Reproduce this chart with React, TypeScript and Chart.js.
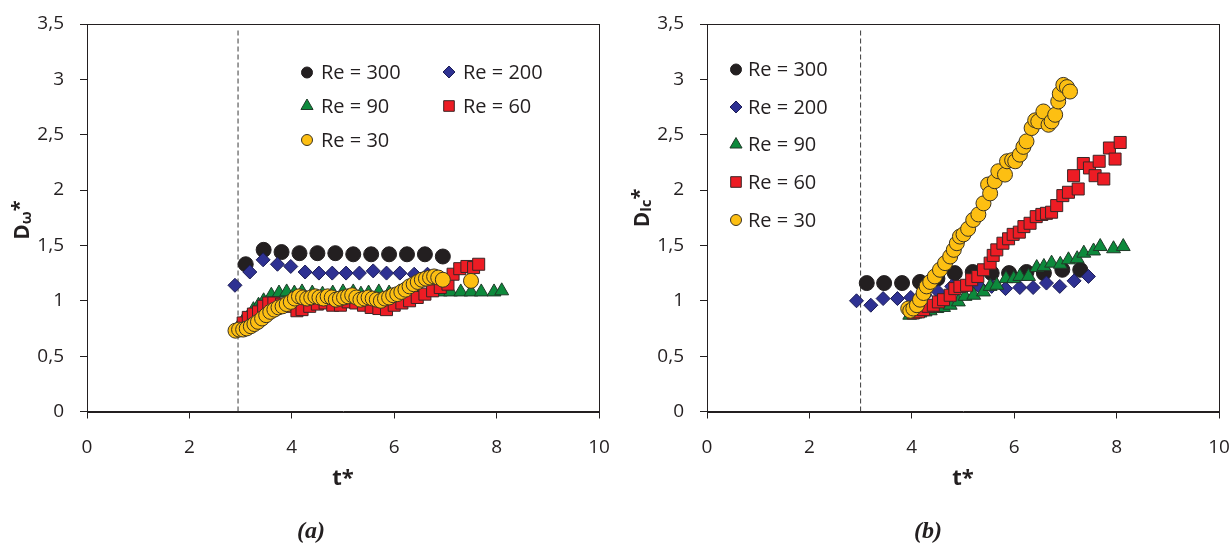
import React, { useEffect, useRef } from "react";
import { Chart, registerables } from "chart.js";

Chart.register(...registerables);

const FONT = "'Open Sans', 'Noto Sans', sans-serif";
const INK = "#231f20";

// ---------- axis ticks ----------
const xTickValues = [0, 2, 4, 6, 8, 10];
const yTickValues = [0, 0.5, 1, 1.5, 2, 2.5, 3, 3.5];

// ---------- legend labels ----------
const seriesLabels = ["Re = 300", "Re = 200", "Re = 90", "Re = 60", "Re = 30"];

// ---------- panel (a): D_omega* ----------
const a300T = [3.1, 3.45, 3.8, 4.15, 4.5, 4.85, 5.2, 5.55, 5.9, 6.25, 6.6, 6.95];
const a300V = [1.33, 1.46, 1.44, 1.43, 1.43, 1.43, 1.42, 1.42, 1.42, 1.42, 1.42, 1.4];

const a200T = [2.89, 3.18, 3.44, 3.72, 3.98, 4.26, 4.53, 4.79, 5.06, 5.32, 5.59, 5.85, 6.11, 6.39, 6.65];
const a200V = [1.14, 1.26, 1.37, 1.33, 1.31, 1.26, 1.25, 1.25, 1.25, 1.25, 1.27, 1.25, 1.25, 1.24, 1.24];

const a90T = [2.95, 3.05, 3.15, 3.25, 3.35, 3.45, 3.6, 3.75, 3.9, 4.05, 4.2, 4.4, 4.6, 4.8, 5.0, 5.2, 5.35, 5.5, 5.7, 5.9, 6.1, 6.3, 6.5, 6.7, 6.9, 7.1, 7.3, 7.5, 7.7, 7.95, 8.1];
const a90V = [0.76, 0.82, 0.86, 0.92, 0.96, 1.0, 1.05, 1.07, 1.08, 1.07, 1.08, 1.07, 1.06, 1.07, 1.08, 1.08, 1.06, 1.07, 1.08, 1.07, 1.08, 1.07, 1.06, 1.08, 1.08, 1.08, 1.08, 1.08, 1.08, 1.08, 1.09];

const a60T = [3.05, 3.15, 3.25, 3.35, 3.45, 3.55, 3.65, 3.8, 3.95, 4.1, 4.2, 4.35, 4.5, 4.65, 4.8, 4.95, 5.1, 5.25, 5.4, 5.55, 5.7, 5.85, 6.0, 6.15, 6.3, 6.45, 6.6, 6.75, 6.9, 7.05, 7.15, 7.28, 7.42, 7.55, 7.65];
const a60V = [0.8, 0.85, 0.88, 0.9, 0.95, 0.98, 0.98, 0.97, 0.95, 0.91, 0.92, 0.95, 0.97, 0.98, 0.96, 0.96, 0.99, 0.98, 0.96, 0.94, 0.93, 0.92, 0.96, 0.98, 1.0, 1.03, 1.06, 1.09, 1.12, 1.15, 1.24, 1.29, 1.31, 1.3, 1.33];

const a30T = [2.9, 2.97, 3.05, 3.12, 3.2, 3.27, 3.34, 3.42, 3.5, 3.58, 3.66, 3.74, 3.82, 3.9, 3.98, 4.06, 4.14, 4.22, 4.3, 4.38, 4.46, 4.54, 4.62, 4.7, 4.78, 4.86, 4.94, 5.02, 5.1, 5.18, 5.26, 5.34, 5.42, 5.5, 5.58, 5.66, 5.74, 5.82, 5.9, 5.98, 6.06, 6.14, 6.22, 6.3, 6.38, 6.46, 6.54, 6.62, 6.7, 6.78, 6.86, 6.95, 7.5];
const a30V = [0.73, 0.74, 0.74, 0.75, 0.77, 0.79, 0.81, 0.84, 0.87, 0.9, 0.92, 0.94, 0.95, 0.97, 0.99, 1.02, 1.04, 1.03, 1.02, 1.03, 1.04, 1.03, 1.02, 1.04, 1.03, 1.01, 1.02, 1.03, 1.04, 1.05, 1.03, 1.01, 1.02, 1.03, 1.02, 1.01, 1.0, 1.02, 1.03, 1.05, 1.06, 1.08, 1.1, 1.13, 1.15, 1.17, 1.19, 1.2, 1.21, 1.22, 1.21, 1.19, 1.18];

const aThreshold = 2.95;

// ---------- panel (b): D_lc* ----------
const b300T = [3.12, 3.46, 3.81, 4.16, 4.5, 4.84, 5.19, 5.56, 5.9, 6.24, 6.58, 6.94, 7.29];
const b300V = [1.16, 1.16, 1.16, 1.17, 1.2, 1.25, 1.26, 1.25, 1.25, 1.26, 1.25, 1.28, 1.28];

const b200T = [2.92, 3.2, 3.44, 3.72, 3.98, 4.26, 4.52, 4.78, 5.04, 5.3, 5.56, 5.83, 6.11, 6.37, 6.63, 6.89, 7.17, 7.45];
const b200V = [1.0, 0.96, 1.02, 1.02, 1.03, 1.05, 1.08, 1.13, 1.12, 1.14, 1.13, 1.11, 1.12, 1.12, 1.16, 1.13, 1.18, 1.22];

const b90T = [3.96, 4.06, 4.16, 4.26, 4.36, 4.49, 4.62, 4.75, 4.91, 5.04, 5.21, 5.4, 5.53, 5.66, 5.84, 5.99, 6.11, 6.28, 6.44, 6.58, 6.73, 6.9, 7.06, 7.23, 7.36, 7.55, 7.68, 7.94, 8.13];
const b90V = [0.87, 0.88, 0.89, 0.9, 0.91, 0.93, 0.94, 0.96, 0.99, 1.04, 1.05, 1.08, 1.13, 1.14, 1.2, 1.2, 1.22, 1.22, 1.3, 1.31, 1.34, 1.33, 1.37, 1.38, 1.43, 1.45, 1.49, 1.47, 1.49];

const b60T = [4.03, 4.13, 4.23, 4.32, 4.42, 4.52, 4.62, 4.75, 4.84, 4.94, 5.07, 5.17, 5.29, 5.4, 5.53, 5.59, 5.66, 5.78, 5.89, 5.98, 6.1, 6.19, 6.31, 6.43, 6.54, 6.63, 6.73, 6.83, 6.95, 7.06, 7.16, 7.25, 7.35, 7.47, 7.58, 7.66, 7.75, 7.86, 7.97, 8.07];
const b60V = [0.89, 0.9, 0.92, 0.95, 0.96, 0.99, 1.01, 1.05, 1.11, 1.13, 1.14, 1.19, 1.22, 1.28, 1.34, 1.41, 1.46, 1.52, 1.56, 1.6, 1.62, 1.67, 1.7, 1.76, 1.78, 1.79, 1.8, 1.86, 1.95, 1.98, 2.13, 2.01, 2.24, 2.2, 2.13, 2.26, 2.1, 2.38, 2.28, 2.43];

const b30T = [3.93, 3.97, 4.03, 4.1, 4.16, 4.23, 4.29, 4.36, 4.45, 4.55, 4.65, 4.75, 4.82, 4.88, 4.94, 5.01, 5.1, 5.2, 5.3, 5.4, 5.49, 5.53, 5.62, 5.69, 5.82, 5.86, 5.96, 6.02, 6.11, 6.18, 6.24, 6.34, 6.41, 6.47, 6.57, 6.67, 6.73, 6.8, 6.86, 6.89, 6.96, 7.03, 7.09];
const b30V = [0.93, 0.91, 0.93, 0.96, 1.01, 1.07, 1.13, 1.17, 1.22, 1.28, 1.34, 1.4, 1.46, 1.52, 1.58, 1.6, 1.65, 1.73, 1.78, 1.88, 2.05, 1.97, 2.08, 2.17, 2.14, 2.26, 2.27, 2.26, 2.32, 2.39, 2.44, 2.56, 2.63, 2.62, 2.71, 2.59, 2.62, 2.68, 2.8, 2.87, 2.95, 2.93, 2.89];

const bThreshold = 3.0;
const thresholdTop = 3.45;

// ---------- styles (series order: 300, 200, 90, 60, 30) ----------
const STYLES = [
  { shape: "circle", r: 7.5, lr: 5.5, fill: "#231f20", stroke: "#231f20" },
  { shape: "rectRot", r: 7, lr: 6, fill: "#2e3192", stroke: "#1c1d55" },
  { shape: "triangle", r: 8, lr: 7, fill: "#0d8a3c", stroke: "#1f3a28" },
  { shape: "rect", r: 8.5, lr: 7.5, fill: "#ed1c24", stroke: "#3b2626" },
  { shape: "circle", r: 7.5, lr: 5.5, fill: "#fdbf12", stroke: "#3a3222" },
];

type PanelDef = {
  series: { t: number[]; v: number[] }[];
  threshold: number;
  yMain: string;
  ySub: string;
  legendPos: { x: number; y: number }[];
  legendGap: number;
  yTitleCenter: number;
};

const panelA: PanelDef = {
  series: [
    { t: a300T, v: a300V },
    { t: a200T, v: a200V },
    { t: a90T, v: a90V },
    { t: a60T, v: a60V },
    { t: a30T, v: a30V },
  ],
  threshold: aThreshold,
  yMain: "D",
  ySub: "ω",
  legendPos: [
    { x: 307, y: 72.5 },
    { x: 449, y: 72 },
    { x: 307, y: 106 },
    { x: 449, y: 106 },
    { x: 307, y: 140 },
  ],
  legendGap: 14,
  yTitleCenter: 220,
};

const panelB: PanelDef = {
  series: [
    { t: b300T, v: b300V },
    { t: b200T, v: b200V },
    { t: b90T, v: b90V },
    { t: b60T, v: b60V },
    { t: b30T, v: b30V },
  ],
  threshold: bThreshold,
  yMain: "D",
  ySub: "lc",
  legendPos: [
    { x: 116, y: 69.5 },
    { x: 116, y: 107 },
    { x: 116, y: 144.5 },
    { x: 116, y: 182 },
    { x: 116, y: 220 },
  ],
  legendGap: 12,
  yTitleCenter: 208,
};

function drawMarker(ctx: CanvasRenderingContext2D, shape: string, x: number, y: number, r: number, fill: string, stroke: string) {
  ctx.beginPath();
  if (shape === "circle") {
    ctx.arc(x, y, r, 0, Math.PI * 2);
  } else if (shape === "rectRot") {
    ctx.moveTo(x, y - r);
    ctx.lineTo(x + r, y);
    ctx.lineTo(x, y + r);
    ctx.lineTo(x - r, y);
    ctx.closePath();
  } else if (shape === "triangle") {
    ctx.moveTo(x, y - r);
    ctx.lineTo(x + r * 0.866, y + r * 0.5);
    ctx.lineTo(x - r * 0.866, y + r * 0.5);
    ctx.closePath();
  } else {
    const s = r * Math.SQRT1_2;
    ctx.rect(x - s, y - s, 2 * s, 2 * s);
  }
  ctx.fillStyle = fill;
  ctx.fill();
  ctx.lineWidth = 1;
  ctx.strokeStyle = stroke;
  ctx.stroke();
}

function makeConfig(panel: PanelDef, canvasWidth: number): any {
  const datasets: any[] = panel.series.map((s, i) => ({
    label: seriesLabels[i],
    data: s.t.map((t, k) => ({ x: t, y: s.v[k] })),
    pointStyle: STYLES[i].shape,
    pointRadius: STYLES[i].r,
    pointBackgroundColor: STYLES[i].fill,
    pointBorderColor: STYLES[i].stroke,
    pointBorderWidth: 1,
    showLine: false,
    order: 5 - i,
  }));
  datasets.push({
    label: "threshold",
    type: "line",
    data: [
      { x: panel.threshold, y: 0 },
      { x: panel.threshold, y: thresholdTop },
    ],
    showLine: true,
    borderColor: "#3a3a3a",
    borderWidth: 1,
    borderDash: [5, 3],
    pointRadius: 0,
    order: 10,
  });

  const framePlugin = {
    id: "frame",
    afterDraw(chart: any) {
      const { ctx, chartArea: a } = chart;
      ctx.save();
      ctx.strokeStyle = INK;
      ctx.lineWidth = 1;
      ctx.strokeRect(Math.round(a.left) + 0.5, Math.round(a.top) + 0.5, Math.round(a.right - a.left), Math.round(a.bottom - a.top));

      // legend
      ctx.font = `20px ${FONT}`;
      ctx.textBaseline = "middle";
      ctx.textAlign = "left";
      panel.legendPos.forEach((p, i) => {
        const st = STYLES[i];
        drawMarker(ctx, st.shape, p.x, p.y, st.lr, st.fill, st.stroke);
        ctx.fillStyle = INK;
        ctx.fillText(seriesLabels[i], p.x + panel.legendGap, p.y + 1);
      });

      // x title
      ctx.font = `bold 22px ${FONT}`;
      ctx.textAlign = "center";
      ctx.fillStyle = INK;
      ctx.fillText("t*", (a.left + a.right) / 2, 479);

      // y title (rotated, with subscript)
      ctx.translate(29, panel.yTitleCenter);
      ctx.rotate(-Math.PI / 2);
      ctx.textAlign = "left";
      ctx.textBaseline = "alphabetic";
      const f1 = `bold 21px ${FONT}`;
      const f2 = `bold 15px ${FONT}`;
      const f3 = `bold 20px ${FONT}`;
      ctx.font = f1;
      const w1 = ctx.measureText(panel.yMain).width;
      ctx.font = f2;
      const w2 = ctx.measureText(panel.ySub).width;
      ctx.font = f3;
      const w3 = ctx.measureText("*").width;
      let px = -(w1 + w2 + w3) / 2;
      ctx.font = f1;
      ctx.fillText(panel.yMain, px, 0);
      px += w1;
      ctx.font = f2;
      ctx.fillText(panel.ySub, px, 2);
      px += w2;
      ctx.font = f3;
      ctx.fillText("*", px, -3);
      ctx.restore();
    },
  };

  return {
    type: "scatter",
    data: { datasets },
    options: {
      animation: false,
      responsive: false,
      devicePixelRatio: 1,
      events: [],
      layout: { padding: { left: 0, top: 24, right: canvasWidth - 599, bottom: 0 } },
      plugins: { legend: { display: false }, tooltip: { enabled: false }, title: { display: false } },
      scales: {
        x: {
          type: "linear",
          min: 0,
          max: 10,
          afterBuildTicks: (s: any) => {
            s.ticks = xTickValues.map((v) => ({ value: v }));
          },
          afterFit: (s: any) => {
            s.height = 134.5;
            s.paddingLeft = 0;
            s.paddingRight = 0;
          },
          ticks: {
            color: INK,
            font: { family: FONT, size: 19 },
            padding: 18,
            maxRotation: 0,
            callback: (v: any) => String(v).replace(".", ","),
          },
          grid: { drawOnChartArea: false, color: INK, tickLength: 7, tickWidth: 1 },
          border: { display: true, color: INK, width: 1 },
        },
        y: {
          type: "linear",
          min: 0,
          max: 3.5,
          afterBuildTicks: (s: any) => {
            s.ticks = yTickValues.map((v) => ({ value: v }));
          },
          afterFit: (s: any) => {
            s.width = 87;
            s.paddingTop = 0;
            s.paddingBottom = 0;
          },
          ticks: {
            color: INK,
            font: { family: FONT, size: 19 },
            padding: 16,
            callback: (v: any) => String(v).replace(".", ","),
          },
          grid: { drawOnChartArea: false, color: INK, tickLength: 7, tickWidth: 1 },
          border: { display: true, color: INK, width: 1 },
        },
      },
    },
    plugins: [framePlugin],
  };
}

function PanelChart({ panel, left, width }: { panel: PanelDef; left: number; width: number }) {
  const ref = useRef<HTMLCanvasElement>(null);
  useEffect(() => {
    const chart = new Chart(ref.current as HTMLCanvasElement, makeConfig(panel, width));
    return () => chart.destroy();
  }, [panel, width]);
  return (
    <canvas
      ref={ref}
      width={width}
      height={546}
      style={{ position: "absolute", left, top: 0, width, height: 546, display: "block" }}
    />
  );
}

const captionStyle: React.CSSProperties = {
  position: "absolute",
  top: 516,
  width: 80,
  textAlign: "center",
  font: "italic bold 24px 'Liberation Serif', 'DejaVu Serif', serif",
  lineHeight: "28px",
  color: INK,
};

export default function App() {
  return (
    <div style={{ position: "fixed", left: 0, top: 0, width: 1232, height: 546, background: "#fff", overflow: "hidden" }}>
      <PanelChart panel={panelA} left={0} width={620} />
      <PanelChart panel={panelB} left={620} width={612} />
      <div style={{ ...captionStyle, left: 311 - 40 }}>(a)</div>
      <div style={{ ...captionStyle, left: 928 - 40 }}>(b)</div>
    </div>
  );
}
